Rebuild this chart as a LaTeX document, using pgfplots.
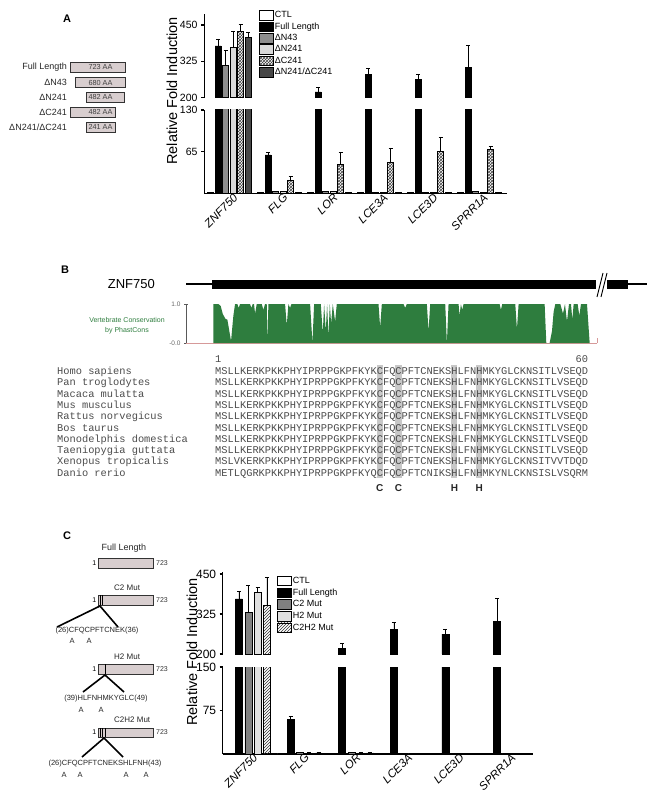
\documentclass[border=0pt]{standalone}
\usepackage{fontspec}
\setmainfont{Liberation Sans}
\setmonofont{Liberation Mono}
\usepackage{pgfplots}
\usepackage{pgfplotstable}
\pgfplotsset{compat=1.18}
\usetikzlibrary{patterns}
\definecolor{consgreen}{RGB}{46,125,62}
\definecolor{boxfill}{RGB}{216,206,207}
\definecolor{seqgray}{RGB}{75,75,75}
\definecolor{hlgray}{RGB}{200,200,200}
\newcommand{\fs}[1]{\fontsize{#1}{#1}\selectfont}
\newcommand{\construct}[5]{%
  \filldraw[fill=boxfill, draw=black!80, line width=0.8pt] (#2,#4-5) rectangle (#3,#4+5);
  \node[font=\fs{7.3}, text=black!75, inner sep=0pt] at (100.5,#4) {#5};
  \node[font=\fs{9}, text=black!85, anchor=east, inner sep=0pt] at (67,#4) {#1};}

\pgfplotstableread{
x ctl ctle fl fle n43 n43e n241 n241e c241 c241e nc nce
0 1 0 378 24 310 54 372 55 429 23 408 18
1 1 0 60 4 2.5 0 2.5 0 20.3 6.2 1 0
2 1 0 220 15 2.5 0 3 0 45.3 18.7 1 0
3 1 0 281 19 1.5 0 1.5 0 48.4 22.3 1 0
4 1 0 264 17 1.5 0 1 0 66 21.4 1 0
5 1 0 304 77 2.5 0 1 0 69 4.7 1 0
}\dataA

\pgfplotstableread{
x ctl ctle fl fle c2 c2e h2 h2e ch che
0 1 0 372 23 332 81 393 15 351 89
1 1 0 60 4 3 0 2 0 2 0
2 1 0 218 16 3 0 2 0 2 0
3 1 0 277 21 1 0 1 0 1 0
4 1 0 262 15 1 0 1 0 1 0
5 1 0 301 73 1 0 1 0 1 0
}\dataC

\pgfplotsset{
  /pgfplots/ybar legend/.style={/pgfplots/legend image code/.code={\draw[##1,draw=black,line width=0.6pt] (0pt,-4.8pt) rectangle (14pt,4.8pt);}},
  brk/.style={scale only axis, enlargelimits=false, clip=true,
    axis y line=left, y axis line style={-, line width=0.9pt},
    tick align=outside, major tick length=3pt,
    ytick style={line width=1.2pt, black},
    /pgf/number format/assume math mode=true,
    every axis plot/.append style={draw=black, line width=0.5pt,
      error bars/y dir=plus, error bars/y explicit,
      error bars/error mark options={rotate=90, mark size=2pt, line width=0.8pt, black},
      error bars/error bar style={line width=0.6pt, black}},
  },
  lowx/.style={axis x line=bottom, x axis line style={-, line width=1.4pt},
    xtick={0,...,5}, xticklabels={ZNF750,FLG,LOR,LCE3A,LCE3D,SPRR1A}, xtick style={draw=none}},
  upx/.style={axis x line=none, xtick=\empty, restrict y to domain=190:2000},
  barsA/.style={ybar=1.5pt, bar width=6pt, xmin=-0.506, xmax=5.554, width=303pt},
  barsC/.style={ybar=2.3pt, bar width=7pt, xmin=-0.496, xmax=5.517, width=310.3pt},
}

\begin{document}
\begin{tikzpicture}
\path[use as bounding box] (0pt,0pt) rectangle (657pt,-799pt);

% ================= Panel A charts =================
\begin{axis}[brk, barsA, lowx, at={(204pt,-193.3pt)}, anchor=south west, height=83.3pt,
  ymin=0, ymax=130, ytick={65,130}, yticklabel style={font=\fs{10.5}},
  x tick label style={rotate=45, anchor=north east, font=\fs{11.5}\itshape, inner sep=1pt, xshift=5pt},
  legend style={draw=none, fill=none, at={(0.1815,2.2)}, anchor=north west,
    font=\fs{9}, row sep=1.2pt, inner sep=0pt, nodes={inner sep=1pt}},
  legend cell align=left]
\addplot[fill=white] table[x=x,y=ctl,y error=ctle]{\dataA};
\addplot[fill=black] table[x=x,y=fl,y error=fle]{\dataA};
\addplot[fill=black!45] table[x=x,y=n43,y error=n43e]{\dataA};
\addplot[fill=black!15] table[x=x,y=n241,y error=n241e]{\dataA};
\addplot[pattern=crosshatch, pattern color=black!75] table[x=x,y=c241,y error=c241e]{\dataA};
\addplot[fill=black!72] table[x=x,y=nc,y error=nce]{\dataA};
\legend{CTL,Full Length,ΔN43,ΔN241,ΔC241,ΔN241/ΔC241}
\end{axis}

\begin{axis}[brk, barsA, upx, at={(204pt,-97.7pt)}, anchor=south west, height=83.7pt,
  ymin=200, ymax=488, ytick={200,325,450}, yticklabel style={font=\fs{10.5}}]
\addplot[fill=white] table[x=x,y=ctl,y error=ctle]{\dataA};
\addplot[fill=black] table[x=x,y=fl,y error=fle]{\dataA};
\addplot[fill=black!45] table[x=x,y=n43,y error=n43e]{\dataA};
\addplot[fill=black!15] table[x=x,y=n241,y error=n241e]{\dataA};
\addplot[pattern=crosshatch, pattern color=black!75] table[x=x,y=c241,y error=c241e]{\dataA};
\addplot[fill=black!72] table[x=x,y=nc,y error=nce]{\dataA};
\end{axis}

% ================= Panel C charts =================
\begin{axis}[brk, barsC, lowx, at={(222.7pt,-754pt)}, anchor=south west, height=87pt,
  ymin=0, ymax=150, ytick={75,150}, yticklabel style={font=\fs{12}},
  x tick label style={rotate=45, anchor=north east, font=\fs{11.5}\itshape, inner sep=1pt, xshift=6pt},
  legend style={draw=none, fill=none, at={(0.175,2.05)}, anchor=north west,
    font=\fs{9}, row sep=1.5pt, inner sep=0pt, nodes={inner sep=1pt}},
  legend cell align=left]
\addplot[fill=white] table[x=x,y=ctl,y error=ctle]{\dataC};
\addplot[fill=black] table[x=x,y=fl,y error=fle]{\dataC};
\addplot[fill=black!50] table[x=x,y=c2,y error=c2e]{\dataC};
\addplot[fill=black!12] table[x=x,y=h2,y error=h2e]{\dataC};
\addplot[pattern=north east lines, pattern color=black!80] table[x=x,y=ch,y error=che]{\dataC};
\legend{CTL,Full Length,C2 Mut,H2 Mut,C2H2 Mut}
\end{axis}

\begin{axis}[brk, barsC, upx, at={(222.7pt,-654pt)}, anchor=south west, height=81.6pt,
  ymin=200, ymax=455, ytick={200,325,450}, yticklabel style={font=\fs{12}}]
\addplot[fill=white] table[x=x,y=ctl,y error=ctle]{\dataC};
\addplot[fill=black] table[x=x,y=fl,y error=fle]{\dataC};
\addplot[fill=black!50] table[x=x,y=c2,y error=c2e]{\dataC};
\addplot[fill=black!12] table[x=x,y=h2,y error=h2e]{\dataC};
\addplot[pattern=north east lines, pattern color=black!80] table[x=x,y=ch,y error=che]{\dataC};
\end{axis}

% ================= Panel B conservation track =================
\begin{axis}[scale only axis, at={(186pt,-343pt)}, anchor=south west, width=411pt, height=39pt,
  xmin=108, xmax=1340, ymin=0, ymax=1, enlargelimits=false,
  axis y line=left, axis x line=bottom, axis line style={-},
  y axis line style={black!65, line width=0.7pt}, x axis line style={color=black!40!red!40, line width=0.8pt},
  xtick=\empty, ytick={0,1}, yticklabels={-0.0,1.0},
  yticklabel style={font=\fs{6.5}, text=black!60},
  tick align=center, major tick length=4pt, ytick style={black!65, line width=0.7pt}]
\addplot[fill=consgreen, draw=none] coordinates {
(190,0) (190,1) (205,1) (212,0.95) (218,0.75) (226,0.62) (232,0.6) (243,0.05) (250,0.7) (255,1)
(262,1) (266,0.9) (270,1) (300,1) (304,0.9) (308,1) (312,1) (315,0.75) (320,1) (335,1) (340,0.85) (345,1)
(350,1) (352,0) (355,1) (405,1) (410,0.45) (415,1) (420,0.9) (424,1) (480,1) (487,0) (492,1)
(512,1) (518,0.25) (522,1) (527,0.3) (531,1) (535,0.15) (539,1) (543,0.5) (548,1) (555,0.55) (560,1)
(685,1) (690,0.4) (695,1) (760,1) (765,0.9) (770,1) (830,1) (835,0.3) (840,1) (885,1) (890,0) (895,1)
(925,1) (928,0.7) (932,1) (936,0.85) (940,1) (1048,1) (1052,0.85) (1056,1) (1095,1) (1100,0.35) (1105,1)
(1183,1) (1188,0) (1198,0) (1205,0.3) (1210,0.8) (1215,1) (1230,1) (1238,0.75) (1244,1) (1250,0.55) (1256,1)
(1262,1) (1266,0.6) (1270,1) (1282,1) (1287,0.7) (1292,1) (1310,1) (1318,0)
} \closedcycle;
\end{axis}

\begin{scope}[x=1pt,y=-1pt]
% panel letters
\node[font=\fs{11}\bfseries] at (67,19) {A};
\node[font=\fs{11}\bfseries] at (65,270) {B};
\node[font=\fs{11}\bfseries] at (67,536) {C};

% y labels
\node[rotate=90, font=\fs{14.5}] at (172,91) {Relative Fold Induction};
\node[rotate=90, font=\fs{14.5}] at (192,652) {Relative Fold Induction};

% panel A construct diagrams
\construct{Full Length}{70}{125}{67}{723 AA}
\construct{ΔN43}{75}{125}{82.7}{680 AA}
\construct{ΔN241}{86}{124}{97}{482 AA}
\construct{ΔC241}{70}{115}{112}{482 AA}
\construct{ΔN241/ΔC241}{86}{115}{127}{241 AA}

% panel B gene structure
\draw[line width=1.2pt] (186,284) -- (647,284);
\fill (212,279.5) rectangle (596,288.5);
\fill[white] (596,276) rectangle (607,292);
\fill (607,279.5) rectangle (628,288.5);
\draw[line width=0.9pt] (597,297) -- (603,273);
\draw[line width=0.9pt] (601,297) -- (607,273);
\node[font=\fs{13}, anchor=east, inner sep=0pt] at (155,284) {ZNF750};
\node[font=\fs{7}, text=consgreen, inner sep=0pt] at (127,320) {Vertebrate Conservation};
\node[font=\fs{7}, text=consgreen, inner sep=0pt] at (127,331) {by PhastCons};
\draw[black!40!red!40, line width=0.8pt] (597,343) -- (597,338);

% alignment
\foreach \c in {27,30,39,43}{
  \fill[hlgray] ({215+(\c-1)*6.217},365) rectangle ({215+\c*6.217},478);
}
\node[font=\ttfamily\fs{10.36}, text=seqgray, anchor=base west, inner sep=0pt] at (215,362) {1};
\node[font=\ttfamily\fs{10.36}, text=seqgray, anchor=base east, inner sep=0pt] at (588.2,362) {60};
\foreach \i/\sp/\sq in {
0/Homo sapiens/MSLLKERKPKKPHYIPRPPGKPFKYKCFQCPFTCNEKSHLFNHMKYGLCKNSITLVSEQD,
1/Pan troglodytes/MSLLKERKPKKPHYIPRPPGKPFKYKCFQCPFTCNEKSHLFNHMKYGLCKNSITLVSEQD,
2/Macaca mulatta/MSLLKERKPKKPHYIPRPPGKPFKYKCFQCPFTCNEKSHLFNHMKYGLCKNSITLVSEQD,
3/Mus musculus/MSLLKERKPKKPHYIPRPPGKPFKYKCFQCPFTCNEKSHLFNHMKYGLCKNSITLVSEQD,
4/Rattus norvegicus/MSLLKERKPKKPHYIPRPPGKPFKYKCFQCPFTCNEKSHLFNHMKYGLCKNSITLVSEQD,
5/Bos taurus/MSLLKERKPKKPHYIPRPPGKPFKYKCFQCPFTCNEKSHLFNHMKYGLCKNSITLVSEQD,
6/Monodelphis domestica/MSLLKERKPKKPHYIPRPPGKPFKYKCFQCPFTCNEKSHLFNHMKYGLCKNSITLVSEQD,
7/Taeniopygia guttata/MSLLKERKPKKPHYIPRPPGKPFKYKCFQCPFTCNEKSHLFNHMKYGLCKNSITLVSEQD,
8/Xenopus tropicalis/MSLVKERKPKKPHYIPRPPGKPFKYKCFQCPFTCNEKSHLFNHMKYGLCKNSITVVTDQD,
9/Danio rerio/METLQGRKPKKPHYIPRPPGKPFKYQCFQCPFTCNIKSHLFNHMKYNLCKNSISLVSQRM}{
  \node[font=\ttfamily\fs{10.36}, text=seqgray, anchor=base west, inner sep=0pt] at (57,{374.5+\i*11.3}) {\sp};
  \node[font=\ttfamily\fs{10.36}, text=seqgray, anchor=base west, inner sep=0pt] at (215,{374.5+\i*11.3}) {\sq};
}
\foreach \xx/\ll in {379.7/C,398.4/C,454.4/H,479.2/H}{
  \node[font=\fs{10}\bfseries, text=black!85] at (\xx,488) {\ll};
}

% panel C construct diagrams
\node[font=\fs{9}, text=black!85] at (124,548) {Full Length};
\filldraw[fill=boxfill, draw=black!80, line width=0.8pt] (98,558) rectangle (153,568);
\node[font=\fs{7}, anchor=east, inner sep=0.5pt] at (97,563) {1};
\node[font=\fs{7}, anchor=west, inner sep=0pt, text=black!80] at (156,563) {723};

\node[font=\fs{8}, anchor=west, text=black!85, inner sep=0pt] at (114,588) {C2 Mut};
\filldraw[fill=boxfill, draw=black!80, line width=0.8pt] (98,595) rectangle (153,605);
\draw[line width=0.6pt] (100,595) -- (100,605) (102,595) -- (102,605);
\node[font=\fs{7}, anchor=east, inner sep=0.5pt] at (97,600) {1};
\node[font=\fs{7}, anchor=west, inner sep=0pt, text=black!80] at (156,600) {723};
\draw[line width=1.6pt] (57,627) -- (100,606) -- (118,627);
\node[font=\fs{7.5}, text=black!85, inner sep=0pt] at (97,630.5) {(26)CFQCPFTCNEK(36)};
\node[font=\fs{7.5}, text=black!85, inner sep=0pt] at (72,641) {A};
\node[font=\fs{7.5}, text=black!85, inner sep=0pt] at (89,641) {A};

\node[font=\fs{8}, anchor=west, text=black!85, inner sep=0pt] at (114,657) {H2 Mut};
\filldraw[fill=boxfill, draw=black!80, line width=0.8pt] (98,664) rectangle (153,674);
\draw[line width=0.6pt] (105,664) -- (105,674);
\node[font=\fs{7}, anchor=east, inner sep=0.5pt] at (97,669) {1};
\node[font=\fs{7}, anchor=west, inner sep=0pt, text=black!80] at (156,669) {723};
\draw[line width=1.6pt] (83,692) -- (105,675) -- (124,692);
\node[font=\fs{7.5}, text=black!85, inner sep=0pt] at (106,699) {(39)HLFNHMKYGLC(49)};
\node[font=\fs{7.5}, text=black!85, inner sep=0pt] at (81,710) {A};
\node[font=\fs{7.5}, text=black!85, inner sep=0pt] at (101,710) {A};

\node[font=\fs{8}, anchor=west, text=black!85, inner sep=0pt] at (114,720) {C2H2 Mut};
\filldraw[fill=boxfill, draw=black!80, line width=0.8pt] (98,728) rectangle (153,737);
\draw[line width=0.6pt] (100,728) -- (100,737) (102,728) -- (102,737) (105,728) -- (105,737);
\node[font=\fs{7}, anchor=east, inner sep=0.5pt] at (97,732.5) {1};
\node[font=\fs{7}, anchor=west, inner sep=0pt, text=black!80] at (156,732.5) {723};
\draw[line width=1.6pt] (82,757) -- (104,738) -- (123,757);
\node[font=\fs{7.5}, text=black!85, inner sep=0pt] at (105,764) {(26)CFQCPFTCNEKSHLFNH(43)};
\foreach \xx in {64,80,126,146}{\node[font=\fs{7.5}, text=black!85, inner sep=0pt] at (\xx,775) {A};}
\end{scope}
\end{tikzpicture}
\end{document}
